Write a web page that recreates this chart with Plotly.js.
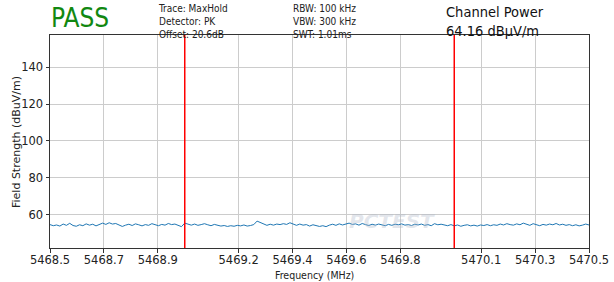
<!DOCTYPE html>
<html>
<head>
<meta charset="utf-8">
<script src="https://cdn.plot.ly/plotly-3.0.1.min.js"></script>
<style>html,body{margin:0;padding:0;background:#fff;}#chart{width:614px;height:282px;}</style>
</head>
<body>
<div id="chart"></div>
<script>
// Sweep settings
const fStart = 5468.5;
const fStop = 5470.5;

const level = [
  54.6, 54.0, 54.4, 53.8, 54.9, 54.2, 55.3, 54.1, 53.7, 54.5, 54.0, 55.0, 54.3, 54.8, 53.9, 54.6, 55.4, 54.7, 55.6, 54.9, 55.2, 54.4, 53.6, 54.3, 54.8, 54.1, 55.0, 54.5, 53.9, 54.6, 54.2, 55.1, 54.4,
  54.0, 54.7, 54.3, 55.2, 54.6, 54.9, 54.1, 53.5, 55.4, 54.8, 54.3, 54.9, 54.2, 54.6, 55.1, 54.5, 54.0, 54.7, 54.3, 53.8, 54.1, 53.6, 54.0, 53.7, 54.2, 53.9, 54.4, 53.8, 54.1, 54.6, 56.5, 55.6, 54.7,
  54.2, 54.8, 54.3, 54.9, 54.6, 55.1, 54.7, 55.6, 54.8, 54.2, 54.9, 54.3, 54.6, 53.8, 54.5, 54.1, 53.6, 54.0, 53.5, 54.3, 54.8, 54.2, 55.0, 54.4, 54.9, 55.4, 54.7, 55.0, 54.3, 55.2, 54.6, 54.1, 54.8,
  54.3, 54.9, 54.4, 54.0, 54.7, 54.2, 54.8, 54.5, 55.0, 54.3, 54.6, 54.1, 54.8, 54.4, 54.9, 54.2, 54.6, 54.0, 55.1, 54.5, 54.8, 54.3, 54.0, 54.6, 53.9, 54.4, 53.7, 54.2, 54.5, 53.9, 54.3, 53.8, 54.4,
  54.1, 54.6, 54.0, 54.5, 54.2, 54.9, 54.4, 55.1, 54.6, 54.3, 55.0, 54.5, 55.4, 54.8, 54.2, 55.1, 54.6, 54.0, 54.7, 54.3, 54.9, 54.5, 55.2, 54.4, 54.8, 54.2, 54.6, 54.0, 54.5, 53.9, 54.3, 54.9, 54.4
];

// Channel edges (MHz)
const channelEdges = [5469.0, 5470.0];

// Axis ticks
const xTickVals = [5468.5, 5468.7, 5468.9, 5469.2, 5469.4, 5469.6, 5469.8, 5470.1, 5470.3, 5470.5];
const xTickText = ["5468.5", "5468.7", "5468.9", "5469.2", "5469.4", "5469.6", "5469.8", "5470.1", "5470.3", "5470.5"];
const yTickVals = [60, 80, 100, 120, 140];

// Texts
const xTitle = "Frequency (MHz)";
const yTitle = "Field Strength (dBuV/m)";
const verdict = "PASS";
const infoLeft = ["Trace: MaxHold", "Detector: PK", "Offset: 20.6dB"];
const infoMid = ["RBW: 100 kHz", "VBW: 300 kHz", "SWT: 1.01ms"];
const powerLines = ["Channel Power", "64.16 dBµV/m"];

const freq = level.map((_, i) => fStart + (fStop - fStart) * i / (level.length - 1));

const L = 50, R = 589, T = 35, B = 248, W = 614, H = 282;
const xp = px => (px - L) / (R - L);
const yp = py => (B - py) / (B - T);

const font = "DejaVu Sans, sans-serif";
const cfont = "DejaVu Sans Condensed, DejaVu Sans, sans-serif";

const annotations = [];
annotations.push({text: verdict, xref: "paper", yref: "paper", x: xp(49), y: yp(18),
  xanchor: "left", yanchor: "middle", showarrow: false,
  font: {family: cfont, size: 26, color: "#118811"}});
annotations.push({text: infoLeft.join("<br>"), xref: "paper", yref: "paper", x: xp(156), y: yp(1),
  xanchor: "left", yanchor: "top", align: "left", showarrow: false,
  font: {family: cfont, size: 10, color: "#222"}});
annotations.push({text: infoMid.join("<br>"), xref: "paper", yref: "paper", x: xp(291), y: yp(1),
  xanchor: "left", yanchor: "top", align: "left", showarrow: false,
  font: {family: cfont, size: 10, color: "#222"}});
annotations.push({text: powerLines.join("<br>"), xref: "paper", yref: "paper", x: xp(444), y: yp(2.5),
  xanchor: "left", yanchor: "top", align: "left", showarrow: false,
  font: {family: cfont, size: 14.5, color: "#111"}});
annotations.push({text: xTitle, xref: "paper", yref: "paper", x: xp(314), y: yp(274.5),
  xanchor: "center", yanchor: "middle", showarrow: false,
  font: {family: cfont, size: 10.5, color: "#222"}});
annotations.push({text: yTitle, xref: "paper", yref: "paper", x: xp(16), y: yp(142),
  xanchor: "center", yanchor: "middle", textangle: -90, showarrow: false,
  font: {family: font, size: 11, color: "#222"}});
// faint watermark
annotations.push({text: "<b><i>PCTEST</i></b>", xref: "x", yref: "y", x: 5469.77, y: 56.6,
  xanchor: "center", yanchor: "middle", showarrow: false,
  font: {family: font, size: 20, color: "rgba(175,185,200,0.35)"}});

const shapes = channelEdges.map(f => ({type: "line", xref: "x", yref: "paper", x0: f, x1: f, y0: 0, y1: 1,
  line: {color: "#ff0000", width: 1.5}}));

const data = [{x: freq, y: level, type: "scatter", mode: "lines",
  line: {color: "#1f77b4", width: 1}, hoverinfo: "skip"}];

const axisCommon = {showline: true, linecolor: "#333", linewidth: 1, mirror: true,
  ticks: "outside", ticklen: 3.5, tickcolor: "#333", showgrid: true, gridcolor: "#cccccc", gridwidth: 1,
  zeroline: false, tickfont: {family: font, size: 11.5, color: "#222"}};

const layout = {
  width: W, height: H,
  margin: {l: L, r: W - R, t: T, b: H - B, pad: 0},
  paper_bgcolor: "#fff", plot_bgcolor: "#fff",
  showlegend: false,
  xaxis: Object.assign({}, axisCommon, {range: [fStart, fStop], tickmode: "array", tickvals: xTickVals, ticktext: xTickText, ticklabelstandoff: -2}),
  yaxis: Object.assign({}, axisCommon, {range: [41.9, 157.5], tickmode: "array", tickvals: yTickVals}),
  annotations: annotations,
  shapes: shapes
};

Plotly.newPlot("chart", data, layout, {staticPlot: true, displayModeBar: false});
</script>
</body>
</html>
